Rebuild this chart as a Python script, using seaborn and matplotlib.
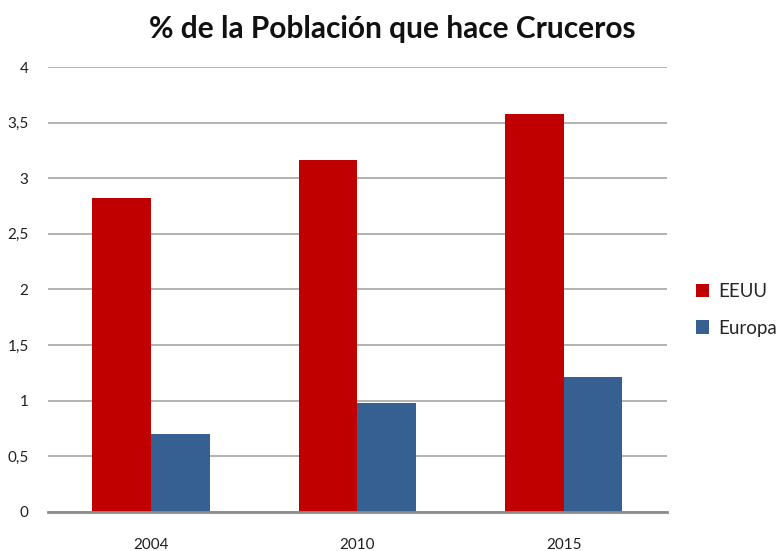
import pandas as pd
import matplotlib
matplotlib.use('Agg')
import matplotlib.pyplot as plt
import seaborn as sns
from matplotlib.ticker import FuncFormatter

years = ['2004', '2010', '2015']
eeuu = [2.82, 3.16, 3.58]
europa = [0.70, 0.98, 1.21]
series_names = ['EEUU', 'Europa']
colors = ['#C00000', '#376092']

# Long format for seaborn
df = pd.DataFrame({
    'Año': years * 2,
    'Valor': eeuu + europa,
    'Serie': [series_names[0]] * 3 + [series_names[1]] * 3,
})

sns.set_style('white')
plt.rcParams['font.family'] = ['Lato', 'DejaVu Sans']

fig = plt.figure(figsize=(7.78, 5.51), dpi=100)
ax = fig.add_axes([0.0617, 0.0708, 0.7953, 0.8076])

sns.barplot(data=df, x='Año', y='Valor', hue='Serie', order=years,
            hue_order=series_names, palette=colors, width=0.57,
            linewidth=0, saturation=1, ax=ax)

ax.set_ylim(0, 4)
ax.set_yticks([0, 0.5, 1, 1.5, 2, 2.5, 3, 3.5, 4])
ax.yaxis.set_major_formatter(FuncFormatter(lambda v, p: f'{v:g}'.replace('.', ',')))
ax.grid(axis='y', color='#A6A6A6', linewidth=1.2)
ax.set_axisbelow(True)
for s in ['left', 'right', 'top']:
    ax.spines[s].set_visible(False)
ax.spines['bottom'].set_color('#8C8C8C')
ax.spines['bottom'].set_linewidth(2)
ax.tick_params(axis='y', length=0, pad=14, labelsize=11, labelcolor='#202020')
ax.tick_params(axis='x', length=0, pad=19, labelsize=11, labelcolor='#202020')
ax.set_xlabel('')
ax.set_ylabel('')

fig.suptitle('% de la Población que hace Cruceros', x=0.504, y=0.972,
             fontsize=21.5, fontweight='bold', color='#111111')

ax.legend(loc='center left', bbox_to_anchor=(0.895, 0.438), bbox_transform=fig.transFigure,
          frameon=False, fontsize=13.5, handlelength=0.7, handleheight=0.7,
          handletextpad=0.45, labelspacing=1.05, borderaxespad=0, borderpad=0)

fig.savefig('out.png', dpi=100)
